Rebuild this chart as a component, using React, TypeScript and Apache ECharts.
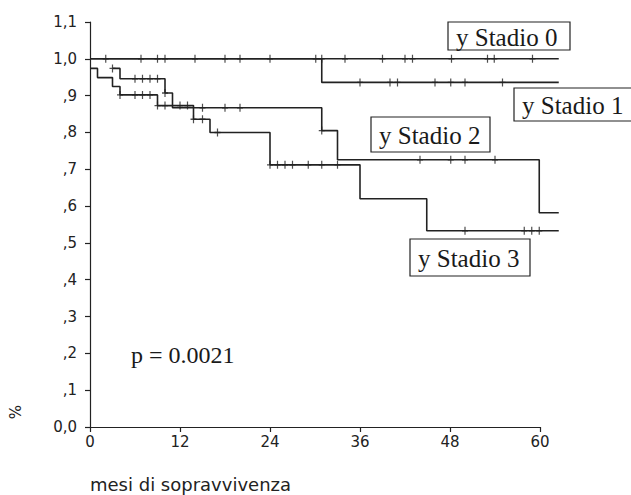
import React, { useEffect, useRef } from "react";
import * as echarts from "echarts";

// Kaplan-Meier step data (months, survival)
const stadio0Times = [0, 62.5];
const stadio0Surv = [1.0, 1.0];
const stadio0Cens = [2.1, 6.8, 9, 10, 14, 18, 20, 24, 30.1, 30.9, 34, 39, 42, 43, 48.2, 53, 53.9, 59];

const stadio1Times = [0, 30.9, 62.5];
const stadio1Surv = [1.0, 0.936, 0.936];
const stadio1Cens = [36, 40, 41, 46, 48.1, 50, 55];

const stadio2Times = [3.0, 4, 10, 11, 30.9, 33, 59.9, 62.5];
const stadio2Surv = [0.974, 0.946, 0.907, 0.867, 0.805, 0.726, 0.582, 0.582];
const stadio2Cens = [3.0, 6, 7, 8, 9, 10, 15, 18, 20, 30.9, 44, 48.1, 50, 54];

const stadio3Times = [0, 1, 3, 4, 9, 13.8, 16, 24, 36, 44.9, 62.5];
const stadio3Surv = [0.974, 0.949, 0.925, 0.902, 0.873, 0.836, 0.8, 0.712, 0.62, 0.533, 0.533];
const stadio3Cens = [4, 6, 7, 8, 9, 10, 12, 13, 13.8, 15, 17, 24, 25, 26, 27, 29.1, 30.9, 33, 50, 57.9, 58.9, 59.9];

const xTicks = [0, 12, 24, 36, 48, 60];
const xAxisMax = 60;
const curveEnd = 62.5;
const seriesNames = ["Stadio 0", "Stadio 1", "Stadio 2", "Stadio 3"];

const INK = "#222";
const CROSS = "path://M2.8,0h1.4v3.3h2.8v1.4h-2.8v3.3h-1.4v-3.3h-2.8v-1.4h2.8z";

function stepData(times: number[], surv: number[]) {
  return times.map((t, i) => [t, surv[i]]);
}
function censData(times: number[], surv: number[], cens: number[]) {
  return cens.map((c) => {
    let v = surv[0];
    for (let i = 0; i < times.length; i++) {
      if (times[i] <= c + 1e-9) v = surv[i];
    }
    return [c, v];
  });
}

function yLabel(v: number) {
  const r = Math.round(v * 10);
  if (r === 0) return "0,0";
  if (r >= 10) return (r / 10).toFixed(1).replace(".", ",");
  return "," + r;
}

export default function App() {
  const ref = useRef<HTMLDivElement>(null);
  useEffect(() => {
    if (!ref.current) return;
    const chart = echarts.init(ref.current, null, { renderer: "svg" });
    const groups = [
      [stadio0Times, stadio0Surv, stadio0Cens],
      [stadio1Times, stadio1Surv, stadio1Cens],
      [stadio2Times, stadio2Surv, stadio2Cens],
      [stadio3Times, stadio3Surv, stadio3Cens],
    ];
    const series: any[] = [];
    groups.forEach((g, i) => {
      series.push({
        name: seriesNames[i],
        type: "line",
        step: "end",
        xAxisIndex: 1,
        yAxisIndex: 1,
        showSymbol: false,
        symbol: "none",
        lineStyle: { color: INK, width: 1.6 },
        data: stepData(g[0], g[1]),
        z: 2,
      });
      series.push({
        name: seriesNames[i] + " censored",
        type: "scatter",
        xAxisIndex: 1,
        yAxisIndex: 1,
        symbol: CROSS,
        symbolSize: [6, 8],
        itemStyle: { color: INK },
        data: censData(g[0], g[1], g[2]),
        z: 3,
      });
    });

    const serif = "'Liberation Serif', 'Times New Roman', serif";
    const sans = "'DejaVu Sans', Verdana, sans-serif";
    const box = (x: number, y: number, w: number, h: number, label: string) => ({
      type: "group",
      children: [
        {
          type: "rect",
          shape: { x, y, width: w, height: h },
          style: { fill: "#fff", stroke: INK, lineWidth: 1.2 },
        },
        {
          type: "text",
          x: x + 8,
          y: y + h / 2 + 1,
          style: {
            text: label,
            font: `25px ${serif}`,
            fill: "#1a1a1a",
            verticalAlign: "middle",
            textAlign: "left",
          },
        },
      ],
    });

    // plot width per month = 450 / 60
    const pxPerMonth = 450 / xAxisMax;
    const rightInner = 631 - 90 - curveEnd * pxPerMonth;

    chart.setOption({
      animation: false,
      backgroundColor: "#fff",
      grid: [
        { left: 90, right: 91, top: 22, bottom: 68, containLabel: false },
        { left: 90, right: rightInner, top: 22, bottom: 68, containLabel: false },
      ],
      xAxis: [
        {
          type: "value",
          gridIndex: 0,
          min: 0,
          max: xAxisMax,
          interval: 12,
          axisLine: { show: true, lineStyle: { color: INK, width: 1.2 } },
          axisTick: { show: true, length: 5, lineStyle: { color: INK, width: 1.2 } },
          splitLine: { show: false },
          axisLabel: {
            color: "#222",
            fontFamily: sans,
            fontSize: 15,
            margin: 7,
            formatter: (v: number) => (xTicks.includes(v) ? String(v) : ""),
          },
        },
        {
          type: "value",
          gridIndex: 1,
          min: 0,
          max: curveEnd,
          show: false,
        },
      ],
      yAxis: [
        {
          type: "value",
          gridIndex: 0,
          min: 0,
          max: 1.1,
          interval: 0.1,
          axisLine: { show: true, lineStyle: { color: INK, width: 1.2 } },
          axisTick: { show: true, length: 5, lineStyle: { color: INK, width: 1.2 } },
          splitLine: { show: false },
          axisLabel: {
            color: "#222",
            fontFamily: sans,
            fontSize: 15,
            margin: 13,
            formatter: yLabel,
          },
        },
        {
          type: "value",
          gridIndex: 1,
          min: 0,
          max: 1.1,
          show: false,
        },
      ],
      graphic: [
        box(448, 22, 122, 28, "y Stadio 0"),
        box(514, 88, 120, 33, "y Stadio 1"),
        box(371, 117, 119, 35, "y Stadio 2"),
        box(410, 239, 120, 37, "y Stadio 3"),
        {
          type: "text",
          x: 131,
          y: 355,
          style: {
            text: "p = 0.0021",
            font: `24px ${serif}`,
            fill: "#1a1a1a",
            verticalAlign: "middle",
            textAlign: "left",
          },
        },
        {
          type: "text",
          x: 90,
          y: 484,
          style: {
            text: "mesi di sopravvivenza",
            font: `18px ${sans}`,
            fill: "#222",
            verticalAlign: "middle",
            textAlign: "left",
          },
        },
        {
          type: "text",
          x: 16,
          y: 412,
          rotation: Math.PI / 2,
          style: {
            text: "%",
            font: `15px ${sans}`,
            fill: "#222",
            verticalAlign: "middle",
            textAlign: "center",
          },
        },
      ],
      series,
    });
    return () => chart.dispose();
  }, []);
  return (
    <div
      ref={ref}
      style={{ position: "fixed", left: 0, top: 0, width: 631, height: 495 }}
    />
  );
}
